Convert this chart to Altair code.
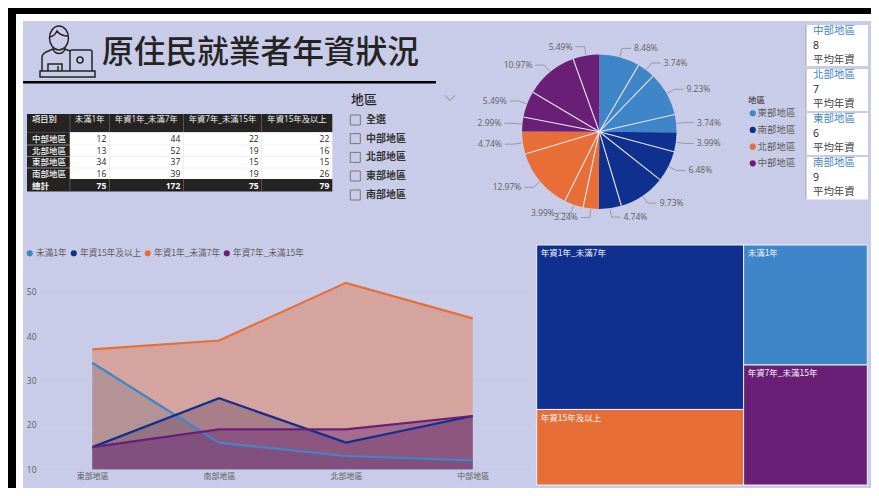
import math
import altair as alt
import pandas as pd

# ---------- data ----------
regions_table = ["中部地區", "北部地區", "東部地區", "南部地區"]
col_names = ["未滿1年", "年資1年_未滿7年", "年資7年_未滿15年", "年資15年及以上"]
under1 = [12, 13, 34, 16]
y1to7 = [44, 52, 37, 39]
y7to15 = [22, 19, 15, 19]
y15up = [22, 16, 15, 26]
totals = [75, 172, 75, 79]
avg_years = [8, 7, 6, 9]
slicer_items = ["全選", "中部地區", "北部地區", "東部地區", "南部地區"]
pie_regions = ["東部地區", "南部地區", "北部地區", "中部地區"]
line_regions = ["東部地區", "南部地區", "北部地區", "中部地區"]
series_order = ["未滿1年", "年資15年及以上", "年資1年_未滿7年", "年資7年_未滿15年"]
tick_values = [10, 20, 30, 40, 50]
tree_left = [("年資1年_未滿7年", 172), ("年資15年及以上", 79)]
tree_right = [("未滿1年", 75), ("年資7年_未滿15年", 75)]

by_series = {"未滿1年": under1, "年資1年_未滿7年": y1to7, "年資7年_未滿15年": y7to15, "年資15年及以上": y15up}
BLUE, NAVY, ORANGE, PURPLE = "#3E86C8", "#10308F", "#E86E37", "#691F76"
PANEL = "#C9CCE8"
INK = "#252423"
GRAY = "#605E5C"
FONT = "Open Sans, Noto Sans CJK TC"
CJK = "Noto Sans CJK TC"


def P(v):
    return v - 8  # page pixel to chart pixel


one = pd.DataFrame({"a": [0]})
layers = []


def box(x0, y0, x1, y1, color, **kw):
    layers.append(
        alt.Chart(one).mark_rect(color=color, **kw).encode(
            x=alt.value(P(x0)), x2=alt.value(P(x1)), y=alt.value(P(y0)), y2=alt.value(P(y1))
        )
    )


def texts(rows, size, color=INK, align="left", weight="normal", font=FONT):
    df = pd.DataFrame(rows, columns=["px", "py", "t"])
    df["px"] = df["px"] - 8
    df["py"] = df["py"] - 8
    layers.append(
        alt.Chart(df).mark_text(
            fontSize=size, color=color, align=align, baseline="middle", fontWeight=weight, font=font
        ).encode(
            x=alt.X("px:Q", scale=None, axis=None),
            y=alt.Y("py:Q", scale=None, axis=None),
            text="t:N",
        )
    )


# ---------- frame and panel ----------
box(8, 8, 871, 488, "#FFFFFF")
box(8, 8, 16, 488, "#000000")
box(8, 8, 871, 14, "#000000")
box(23, 21, 871, 488, PANEL)

# ---------- title ----------
cx_i, cy_i, r_i = 68, 52, 30


def pt(x, y):
    return f"{(x - cx_i) / r_i:.3f},{(y - cy_i) / r_i:.3f}"


def ellipse(cx, cy, rx, ry):
    k = 0.5523
    return (
        f"M{pt(cx - rx, cy)} C{pt(cx - rx, cy - k * ry)} {pt(cx - k * rx, cy - ry)} {pt(cx, cy - ry)} "
        f"C{pt(cx + k * rx, cy - ry)} {pt(cx + rx, cy - k * ry)} {pt(cx + rx, cy)} "
        f"C{pt(cx + rx, cy + k * ry)} {pt(cx + k * rx, cy + ry)} {pt(cx, cy + ry)} "
        f"C{pt(cx - k * rx, cy + ry)} {pt(cx - rx, cy + k * ry)} {pt(cx - rx, cy)} Z "
    )


icon = (
    ellipse(59, 38, 9.5, 12)
    + ellipse(80, 60, 3, 3)
    + f"M{pt(50, 37)} C{pt(54, 36)} {pt(56, 33)} {pt(57, 31)} C{pt(60, 35)} {pt(64, 36)} {pt(68, 36)} "
    + f"M{pt(42, 71)} L{pt(42, 58)} C{pt(42, 53)} {pt(46, 52)} {pt(53, 49)} C{pt(55, 55)} {pt(63, 55)} {pt(65, 49)} L{pt(70, 51)} "
    + f"M{pt(48, 71)} L{pt(48, 64)} L{pt(62, 64)} L{pt(62, 71)} M{pt(58, 66)} L{pt(58, 71)} "
    + f"M{pt(70, 71)} L{pt(70, 52)} C{pt(70, 51)} {pt(70, 50)} {pt(72, 50)} L{pt(90, 50)} C{pt(92, 50)} {pt(92, 51)} {pt(92, 52)} L{pt(92, 71)} "
    + f"M{pt(40, 71)} L{pt(95, 71)} L{pt(95, 77)} L{pt(40, 77)} Z"
)
layers.append(
    alt.Chart(one).mark_point(shape=icon, filled=False, stroke=INK, strokeWidth=1.5, size=(2 * r_i) ** 2, opacity=1).encode(
        x=alt.value(P(cx_i)), y=alt.value(P(cy_i))
    )
)
texts([(102, 53, "原住民就業者年資狀況")], 31.7, INK, weight=500, font=CJK)
box(23, 81, 436, 83.4, "#000000")

# ---------- table ----------
col_edges = [27, 70, 109.3, 183.3, 261.7, 332.3]
row_centres = [139.3, 150.6, 162, 173.7]
box(27, 114, 332.3, 132.3, "#252423")
box(27, 132.3, 70, 179, "#252423")
box(70, 132.3, 332.3, 179, "#FFFFFF")
box(27, 179, 332.3, 191.5, "#252423")
for e in col_edges[1:-1]:
    box(e - 0.3, 114, e + 0.3, 132.3, "#777777")
    box(e - 0.3, 179, e + 0.3, 191.5, "#777777")
    box(e - 0.3, 132.3, e + 0.3, 179, "#E6E6E6")
for yy in (145, 156.2, 168):
    box(27, yy - 0.3, 332.3, yy + 0.3, "#E6E6E6")

head = [(32, 120, "項目別")]
head += [((col_edges[i + 1] + col_edges[i + 2]) / 2, 120, c) for i, c in enumerate(col_names)]
texts([head[0]], 8.3, "#F2F2F2", weight=500, font=CJK)
texts(head[1:], 8.3, "#F2F2F2", align="center", font=FONT)
texts([(32, row_centres[i], r) for i, r in enumerate(regions_table)], 8.5, "#F2F2F2", weight=500, font=CJK)
cells = []
for j, c in enumerate(col_names):
    for i in range(4):
        cells.append((col_edges[j + 2] - 3, row_centres[i], str(by_series[c][i])))
texts(cells, 8.5, INK, align="right")
texts([(32, 186, "總計")], 8.5, "#FFFFFF", weight=700, font=CJK)
texts([(col_edges[j + 2] - 3, 186, str(v)) for j, v in enumerate(totals)], 8.5, "#FFFFFF", align="right", weight=700)

# ---------- slicer ----------
texts([(351, 100, "地區")], 13, INK, weight=500, font=CJK)
layers.append(
    alt.Chart(one).mark_point(shape="M-1,-0.5 L0,0.5 L1,-0.5", filled=False, stroke="#8A8886", strokeWidth=1, size=100, opacity=1).encode(
        x=alt.value(P(450)), y=alt.value(P(98))
    )
)
slicer_y = [120, 138.6, 157.4, 176, 195]
box_df = pd.DataFrame({"px": [P(355.3)] * 5, "py": [P(v) for v in slicer_y]})
layers.append(
    alt.Chart(box_df).mark_point(shape="square", filled=False, stroke="#77777A", strokeWidth=1, size=100, opacity=1).encode(
        x=alt.X("px:Q", scale=None, axis=None), y=alt.Y("py:Q", scale=None, axis=None)
    )
)
texts([(366, slicer_y[i], s) for i, s in enumerate(slicer_items)], 10, "#333333", weight=700, font=CJK)

# ---------- pie ----------
order_rows = {"東部地區": 2, "南部地區": 3, "北部地區": 1, "中部地區": 0}
pie_rows = []
for reg in pie_regions:
    for s in series_order:
        pie_rows.append({"region": reg, "series": s, "v": by_series[s][order_rows[reg]]})
pie = pd.DataFrame(pie_rows)
TOTAL = float(pie["v"].sum())
pie["t1"] = pie["v"].cumsum()
pie["t0"] = pie["t1"] - pie["v"]
pie["mid"] = (pie["t0"] + pie["t1"]) / 2
pie["label"] = (pie["v"] / TOTAL * 100).map(lambda p: f"{p:.2f}%")
CX, CY, R = 599.3, 131.7, 77.3
theta_scale = alt.Scale(domain=[0, TOTAL], range=[0, 2 * math.pi])
layers.append(
    alt.Chart(pie).mark_arc(radius=R).encode(
        x=alt.value(P(CX)),
        y=alt.value(P(CY)),
        theta=alt.Theta("t0:Q", scale=theta_scale),
        theta2="t1:Q",
        color=alt.Color(
            "region:N",
            scale=alt.Scale(domain=pie_regions, range=[BLUE, NAVY, ORANGE, PURPLE]),
            legend=alt.Legend(
                orient="none", legendX=P(748), legendY=P(96), title="地區", titleFont=CJK, titleFontSize=8.5,
                titleColor=INK, titleFontWeight="normal", titlePadding=4, labelFont=CJK, labelFontSize=9.5,
                labelColor=GRAY, symbolType="circle", symbolSize=38, symbolStrokeWidth=0, rowPadding=5.7, labelOffset=0,
            ),
        ),
    )
)
seps = pie[pie["series"] != series_order[0]]
layers.append(
    alt.Chart(seps).mark_arc(radius=R, stroke="#E4E5F2", strokeWidth=1.1, fillOpacity=0).encode(
        x=alt.value(P(CX)),
        y=alt.value(P(CY)),
        theta=alt.Theta("t0:Q", scale=theta_scale),
        theta2="t0:Q",
    )
)
lead_rows, left_labels, right_labels = [], [], []
LABEL_W = 21
prev = None
for i, row in pie.iterrows():
    a = row["mid"] / TOTAL * 2 * math.pi
    sx, sy = math.sin(a), -math.cos(a)
    ax, ay = CX + sx * (R + 1), CY + sy * (R + 1)
    bx, by = CX + sx * (R + 9), CY + sy * (R + 9)
    sign = 1 if sx >= 0 else -1
    ex = bx + sign * 9
    # push a crowded label outward along its elbow when it would touch the previous one
    if prev is not None and sign < 0 and prev[0] < 0 and abs(by - prev[2]) < 10:
        ex = min(ex, prev[1] - LABEL_W - 2)
    prev = (sign, ex, by)
    for k, (px, py) in enumerate([(ax, ay), (bx, by), (ex, by)]):
        lead_rows.append({"id": i, "k": k, "px": P(px), "py": P(py)})
    (right_labels if sign > 0 else left_labels).append((ex + sign * 3, by, row["label"]))
layers.append(
    alt.Chart(pd.DataFrame(lead_rows)).mark_line(color="#8C8C90", strokeWidth=0.8).encode(
        x=alt.X("px:Q", scale=None, axis=None),
        y=alt.Y("py:Q", scale=None, axis=None),
        detail="id:N",
        order="k:Q",
    )
)
texts(right_labels, 8.5, GRAY, "left")
texts(left_labels, 8.5, GRAY, "right")

# ---------- cards ----------
card_tops = [25, 69, 113, 157]
card_bottoms = [66, 111, 155, 199.5]
for i, reg in enumerate(regions_table):
    box(805, card_tops[i], 868, card_bottoms[i], "#FFFFFF")
    box(805, card_tops[i], 806.6, card_bottoms[i], "#B9B9BC")
    t = card_tops[i]
    texts([(813, t + 5.5, reg)], 10.5, BLUE, font=CJK)
    texts([(813, t + 21.3, str(avg_years[i]))], 10.5, INK)
    texts([(813, t + 35.2, "平均年資")], 10.4, "#444444", font=CJK)

# ---------- line / area chart ----------
lr = []
for s in series_order:
    for reg in line_regions:
        lr.append({"region": reg, "series": s, "v": by_series[s][order_rows[reg]]})
lines = pd.DataFrame(lr)
x_s = alt.Scale(type="point", domain=line_regions, range=[P(92.3), P(472.7)], padding=0)
y_s = alt.Scale(domain=[10, 55], range=[P(469.3), P(469.3 - 45 * 4.44)], nice=False, zero=False)
col_s = alt.Scale(domain=series_order, range=[BLUE, NAVY, ORANGE, PURPLE])
grid = pd.DataFrame({"v": tick_values})
layers.append(
    alt.Chart(grid).mark_rule(color="#B9BEDA", strokeWidth=0.8, strokeDash=[1, 3]).encode(
        y=alt.Y("v:Q", scale=y_s, axis=None), x=alt.value(P(40)), x2=alt.value(P(530))
    )
)
layers.append(
    alt.Chart(lines).mark_area(opacity=0.42).encode(
        x=alt.X("region:N", scale=x_s, axis=None, sort=line_regions),
        y=alt.Y("v:Q", scale=y_s, axis=None, stack=None),
        y2=alt.Y2(datum=10),
        color=alt.Color(
            "series:N", scale=col_s,
            legend=alt.Legend(
                orient="none", legendX=P(25.5), legendY=P(249), direction="horizontal", columns=4, title=None,
                labelFont=CJK, labelFontSize=8.6, labelColor=GRAY, symbolType="circle", symbolSize=38,
                symbolOpacity=1, symbolStrokeWidth=0, labelOffset=2, columnPadding=2,
            ),
        ),
    )
)
layers.append(
    alt.Chart(lines).mark_line(strokeWidth=2.2).encode(
        x=alt.X(
            "region:N", scale=x_s, sort=line_regions,
            axis=alt.Axis(title=None, orient="bottom", offset=-18, domain=False, ticks=False, labelAngle=0, zindex=1,
                          labelFont=CJK, labelFontSize=8, labelColor=GRAY, labelPadding=2),
        ),
        y=alt.Y(
            "v:Q", scale=y_s,
            axis=alt.Axis(title=None, values=tick_values, offset=-30, domain=False, ticks=False, grid=False, zindex=1,
                          labelFont=FONT, labelFontSize=8.5, labelColor=GRAY, labelPadding=2),
        ),
        color=alt.Color("series:N", scale=col_s, legend=None),
    )
)

# ---------- treemap ----------
tm = []
left_sum = sum(v for _, v in tree_left)
right_sum = sum(v for _, v in tree_right)
acc = 0
for n, v in tree_left:
    tm.append({"n": n, "x0": 0, "x1": left_sum, "y0": acc / left_sum, "y1": (acc + v) / left_sum})
    acc += v
acc = 0
for n, v in tree_right:
    tm.append({"n": n, "x0": left_sum, "x1": left_sum + right_sum, "y0": acc / right_sum, "y1": (acc + v) / right_sum})
    acc += v
tree = pd.DataFrame(tm)
tx = alt.Scale(domain=[0, left_sum + right_sum], range=[P(536.7), P(867.3)], nice=False, zero=False)
ty = alt.Scale(domain=[0, 1], range=[P(245), P(485)], nice=False, zero=False)
layers.append(
    alt.Chart(tree).mark_rect(stroke="#EEF0FA", strokeWidth=1).encode(
        x=alt.X("x0:Q", scale=tx, axis=None),
        x2="x1:Q",
        y=alt.Y("y0:Q", scale=ty, axis=None),
        y2="y1:Q",
        color=alt.Color(
            "n:N",
            scale=alt.Scale(domain=["年資1年_未滿7年", "未滿1年", "年資15年及以上", "年資7年_未滿15年"], range=[NAVY, BLUE, ORANGE, PURPLE]),
            legend=None,
        ),
    )
)
layers.append(
    alt.Chart(tree).mark_text(align="left", baseline="middle", dx=4, dy=8.2, fontSize=8.5, font=CJK, color="#F4F4F8").encode(
        x=alt.X("x0:Q", scale=tx, axis=None),
        y=alt.Y("y0:Q", scale=ty, axis=None),
        text="n:N",
    )
)

chart = (
    alt.layer(*layers)
    .resolve_scale(x="independent", y="independent", color="independent", theta="independent")
    .resolve_axis(x="independent", y="independent")
    .resolve_legend(color="independent")
    .properties(width=863, height=480, padding=0, autosize=alt.AutoSizeParams(type="none"), background="#FFFFFF")
    .configure_view(stroke=None)
)
chart.save("out.html", embed_options={"renderer": "svg", "actions": False})
